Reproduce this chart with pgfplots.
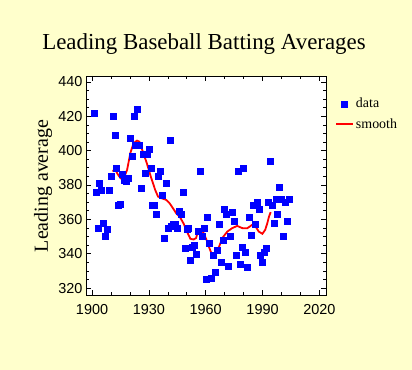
\documentclass[border=0pt]{standalone}
\usepackage{fontspec}
\setmainfont{Liberation Serif}
\setsansfont{Liberation Sans}
\usepackage{pgfplots}
\usepackage{pgfplotstable}
\pgfplotsset{compat=1.18}
\definecolor{bgyellow}{RGB}{255,255,204}

\pgfplotstableread{
year avg
1901 422
1902 376
1903 355
1904 381
1905 377
1906 358
1907 350
1908 354
1909 377
1910 385
1911 420
1912 409
1913 390
1914 368
1915 369
1916 386
1917 383
1918 382
1919 384
1920 407
1921 397
1922 420
1923 403
1924 424
1925 403
1926 378
1927 398
1928 387
1929 398
1930 401
1931 390
1932 368
1933 368
1934 363
1935 385
1936 388
1937 374
1938 349
1939 381
1940 355
1941 406
1942 356
1943 357
1944 357
1945 355
1946 365
1947 363
1948 376
1949 343
1950 354
1951 355
1952 336
1953 344
1954 345
1955 340
1956 353
1957 388
1958 350
1959 355
1960 325
1961 361
1962 346
1963 326
1964 339
1965 329
1966 342
1967 357
1968 335
1969 348
1970 366
1971 363
1972 333
1973 350
1974 364
1975 359
1976 339
1977 388
1978 334
1979 344
1980 390
1981 341
1982 332
1983 361
1984 351
1985 368
1986 357
1987 370
1988 366
1989 339
1990 335
1991 341
1992 343
1993 370
1994 394
1995 368
1996 358
1997 372
1998 363
1999 379
2000 372
2001 350
2002 370
2003 359
2004 372
}\datatable

\pgfplotstableread{
year avg
1910.9 387.8
1912.0 389.5
1913.4 386.5
1915.0 384.0
1916.4 383.0
1918.5 388.8
1920.2 398.5
1921.9 404.3
1923.7 405.8
1925.0 405.2
1926.8 399.4
1928.9 392.7
1931.0 384.9
1933.3 377.2
1934.8 373.3
1936.7 372.3
1939.2 371.3
1940.9 369.4
1942.7 366.5
1944.4 363.6
1946.3 361.5
1948.4 357.4
1950.1 352.9
1951.9 348.7
1953.6 348.3
1954.9 349.1
1955.9 353.0
1957.6 354.2
1959.1 351.6
1960.4 348.1
1961.2 345.5
1962.8 340.8
1964.1 338.5
1965.1 339.1
1967.1 344.2
1968.8 349.2
1971.4 352.9
1974.0 354.9
1976.6 356.2
1979.3 354.9
1981.9 354.8
1984.5 356.8
1986.3 355.9
1988.0 352.9
1989.9 351.6
1991.4 353.9
1992.5 357.7
1993.4 361.6
1994.3 364.2
}\smoothtable

\begin{document}
\begin{tikzpicture}
\useasboundingbox (-86bp,-75bp) rectangle (326bp,295bp);
\fill[bgyellow] (-86bp,-75bp) rectangle (326bp,295bp);
\begin{axis}[
  at={(0bp,0bp)}, anchor=south west,
  scale only axis, width=240bp, height=219bp,
  xmin=1896.8, xmax=2023.5,
  ymin=316, ymax=443.4,
  xtick={1900,1930,1960,1990,2020},
  ytick={320,340,360,380,400,420,440},
  minor x tick num=2, minor y tick num=3,
  tick align=inside,
  major tick length=5bp, minor tick length=3bp,
  every tick/.style={black, line width=0.6bp},
  axis line style={black, line width=0.8bp},
  axis background/.style={fill=white},
  /pgf/number format/assume math mode=true,
  /pgf/number format/1000 sep={},
  tick label style={font=\fontsize{14.5}{17}\sffamily},
  xticklabel style={yshift=-6bp},
  xtick pos=both, ytick pos=both,
  xticklabel pos=lower, yticklabel pos=left,
  legend style={at={(1,1)}, anchor=north west, xshift=6bp, yshift=-18bp,
    draw=none, fill=none, font=\fontsize{14}{16}\selectfont,
    row sep=5bp},
  legend cell align=left,
  clip=false,
]
\addplot[only marks, mark=square*, mark size=3bp, color=blue] table[x=year,y=avg]{\datatable};
\addlegendentry{data}
\addplot[red, line width=1.8bp, mark=none] table[x=year,y=avg]{\smoothtable};
\addlegendentry{smooth}
\end{axis}
\node[font=\fontsize{23}{27}\selectfont, anchor=base] at (118bp,245bp) {Leading Baseball Batting Averages};
\node[font=\fontsize{20}{24}\selectfont, rotate=90] at (-43bp,109bp) {Leading average};
\end{tikzpicture}
\end{document}
